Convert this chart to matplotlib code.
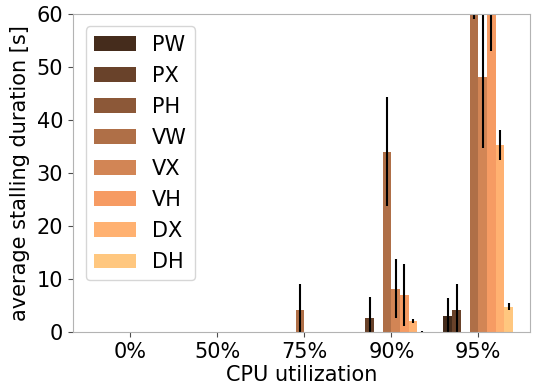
import matplotlib
matplotlib.use("Agg")
import matplotlib.pyplot as plt
import matplotlib.cm as cm
import numpy as np

cpu = ['0%', '50%', '75%', '90%', '95%']
names = ['PW', 'PX', 'PH', 'VW', 'VX', 'VH', 'DX', 'DH']

means = {
    'PW': [0, 0, 0, 0, 3.0],
    'PX': [0, 0, 0, 2.7, 4.2],
    'PH': [0, 0, 0, 0, 0],
    'VW': [0, 0, 4.2, 34.0, 65.0],
    'VX': [0, 0, 0, 8.2, 48.2],
    'VH': [0, 0, 0, 7.0, 68.0],
    'DX': [0, 0, 0, 2.1, 35.3],
    'DH': [0, 0, 0, 0.1, 4.8],
}
errs = {
    'PW': [0, 0, 0, 0, 3.4],
    'PX': [0, 0, 0, 4.0, 4.9],
    'PH': [0, 0, 0, 0, 0],
    'VW': [0, 0, 4.9, 10.3, 6.0],
    'VX': [0, 0, 0, 5.5, 13.4],
    'VH': [0, 0, 0, 5.8, 15.0],
    'DX': [0, 0, 0, 0.45, 2.75],
    'DH': [0, 0, 0, 0.1, 0.6],
}

colors = cm.copper(np.linspace(0, 1, 10))[2:]

fig = plt.figure(figsize=(5.37, 3.88), dpi=100)
ax = fig.add_axes([0.136, 0.144, 0.851, 0.820])

x = np.arange(len(cpu))
w = 0.1
for i, n in enumerate(names):
    ax.bar(x + (i - 3.5) * w, means[n], w, yerr=errs[n], color=colors[i],
           label=n, error_kw=dict(ecolor='black', elinewidth=1.5, capsize=0))

ax.set_xlim(-0.66, 4.595)
ax.set_ylim(0, 60)
ax.set_xticks(x)
ax.set_xticklabels(cpu)
ax.set_yticks(np.arange(0, 61, 10))
ax.tick_params(labelsize=15, color='0.3')
ax.set_xlabel('CPU utilization', fontsize=15, labelpad=2)
ax.set_ylabel('average stalling duration [s]', fontsize=15, labelpad=5)
for s in ax.spines.values():
    s.set_color('0.7')

ax.legend(loc='upper left', fontsize=15, handlelength=2.0, labelspacing=0.53,
          borderaxespad=0.6)

fig.savefig('out.png', dpi=100, facecolor='w')
